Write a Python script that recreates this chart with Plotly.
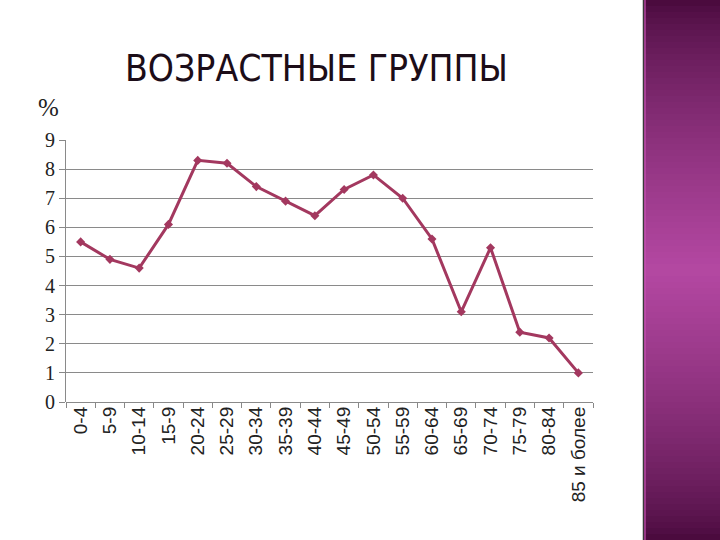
import plotly.graph_objects as go

categories = ["0-4", "5-9", "10-14", "15-9", "20-24", "25-29", "30-34", "35-39", "40-44",
              "45-49", "50-54", "55-59", "60-64", "65-69", "70-74", "75-79", "80-84", "85 и более"]
values = [5.5, 4.9, 4.6, 6.1, 8.3, 8.2, 7.4, 6.9, 6.4, 7.3, 7.8, 7.0, 5.6, 3.1, 5.3, 2.4, 2.2, 1.0]
y_ticks = [0, 1, 2, 3, 4, 5, 6, 7, 8, 9]

W, H = 720, 540
L, R, T, B = 66, 593, 140, 402  # plot area in pixels


def px_x(x):
    return (x - L) / (R - L)


def px_y(y):
    return (B - y) / (B - T)


fig = go.Figure()
fig.add_trace(go.Scatter(
    x=categories, y=values, mode="lines+markers",
    line=dict(color="#A3385F", width=3),
    marker=dict(symbol="diamond", size=7, color="#A3385F"),
    showlegend=False, hoverinfo="skip",
))

# purple side panel gradient
shapes = []
n = 90
dark = (70, 8, 58)
light = (180, 72, 162)
for i in range(n):
    t = (i + 0.5) / n
    f = 1 - abs(t - 0.5) * 2
    f = f ** 0.7
    c = tuple(int(round(dark[k] + (light[k] - dark[k]) * f)) for k in range(3))
    py0 = i * H / n
    py1 = (i + 1) * H / n + 1
    shapes.append(dict(type="rect", xref="paper", yref="paper",
                       x0=px_x(643), x1=px_x(722), y0=px_y(py1), y1=px_y(py0),
                       line=dict(width=0), fillcolor="rgb(%d,%d,%d)" % c, layer="below"))
shapes.append(dict(type="line", xref="paper", yref="paper",
                   x0=px_x(643.5), x1=px_x(643.5), y0=px_y(H + 2), y1=px_y(-2),
                   line=dict(color="#3a3a3a", width=1.5)))
shapes.append(dict(type="line", xref="paper", yref="paper",
                   x0=px_x(645), x1=px_x(645), y0=px_y(H + 2), y1=px_y(-2),
                   line=dict(color="rgba(200,80,180,0.6)", width=2)))

fig.update_layout(
    width=W, height=H,
    margin=dict(l=L, r=W - R, t=T, b=H - B, autoexpand=False),
    paper_bgcolor="white", plot_bgcolor="white",
    shapes=shapes,
    xaxis=dict(
        type="category", tickangle=-90, tickson="boundaries", ticks="outside",
        ticklen=5, tickcolor="#888888", showgrid=False, showline=False, zeroline=False,
        tickfont=dict(family="Liberation Sans, Arial", size=19, color="#222222"),
        range=[-0.5, 17.5],
    ),
    yaxis=dict(
        range=[0, 9], tickvals=y_ticks, ticks="outside", ticklen=6, tickcolor="#888888",
        showgrid=True, gridcolor="#8a8a8a", gridwidth=1,
        showline=True, linecolor="#8a8a8a", linewidth=1,
        zeroline=True, zerolinecolor="#8a8a8a", zerolinewidth=1,
        tickfont=dict(family="Liberation Serif, Times New Roman", size=20, color="#222222"),
    ),
    annotations=[
        dict(text="ВОЗРАСТНЫЕ ГРУППЫ", xref="paper", yref="paper",
             x=px_x(316), y=px_y(69), xanchor="center", yanchor="middle",
             showarrow=False,
             font=dict(family="DejaVu Sans Condensed", size=37, color="#1c0d18")),
        dict(text="%", xref="paper", yref="paper",
             x=px_x(48), y=px_y(107), xanchor="center", yanchor="middle",
             showarrow=False,
             font=dict(family="Liberation Serif, Times New Roman", size=25, color="#222222")),
    ],
)

fig.write_html("out.html", config={"displayModeBar": False},
               post_script="document.body.style.margin='0';document.body.style.overflow='hidden';")
